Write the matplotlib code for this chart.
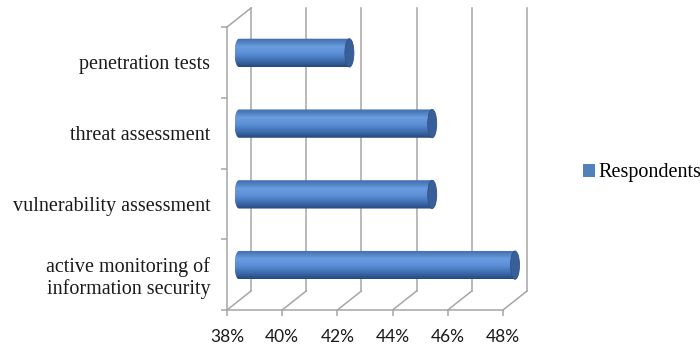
import numpy as np
import matplotlib
matplotlib.use('Agg')
import matplotlib.pyplot as plt
from matplotlib.patches import Ellipse, Polygon, Patch
from matplotlib.colors import LinearSegmentedColormap

categories = ['active monitoring of\ninformation security', 'vulnerability assessment',
              'threat assessment', 'penetration tests']
values = [48, 45, 45, 42]
series_name = 'Respondents'
xticks = [38, 40, 42, 44, 46, 48]

grid_col = '#a6a6a6'
fig = plt.figure(figsize=(7, 3.49), dpi=100)
ax = fig.add_axes([227 / 700, 39 / 349, 276 / 700, 283 / 349])
ax.set_xlim(xticks[0], xticks[-1])
ax.set_ylim(-0.5, len(categories) - 0.5)

# pixel -> data conversion for the fake 3d depth
ppx = ax.bbox.width / (xticks[-1] - xticks[0])
ppy = ax.bbox.height / len(categories)
ddx, ddy = 24 / ppx, 19 / ppy
y0, y1 = -0.5, len(categories) - 0.5

# back wall gridlines + floor diagonals
for x in xticks:
    ax.plot([x + ddx, x + ddx], [y0 + ddy, y1 + ddy], color=grid_col, lw=1.1, clip_on=False, zorder=1)
    ax.plot([x, x + ddx], [y0, y0 + ddy], color=grid_col, lw=1.1, clip_on=False, zorder=1)
# top edge of the side wall
ax.plot([xticks[0], xticks[0] + ddx], [y1, y1 + ddy], color=grid_col, lw=1.1, clip_on=False, zorder=1)

# cylinders
cmap = LinearSegmentedColormap.from_list('cyl', [
    (0.0, '#3d6aac'), (0.3, '#6a9ddf'), (0.55, '#5a8dd4'), (0.82, '#3966a8'), (1.0, '#26477c')])
grad = np.linspace(0, 1, 200).reshape(-1, 1)
h = 0.4
w = 9 / ppx
for i, v in enumerate(values):
    yc = i + ddy / 2
    xa = xticks[0] + ddx / 2
    xb = v + ddx / 2
    t = np.linspace(1.5 * np.pi, 0.5 * np.pi, 40)
    pts = [(xa, yc + h / 2), (xb, yc + h / 2), (xb, yc - h / 2)]
    pts += list(zip(xa + w / 2 * np.cos(t), yc + h / 2 * np.sin(t)))
    body = Polygon(pts, closed=True, facecolor='none', edgecolor='none', transform=ax.transData)
    ax.add_patch(body)
    body.set_clip_on(False)
    im = ax.imshow(grad, cmap=cmap, aspect='auto', origin='upper',
                   extent=[xa - w / 2, xb, yc - h / 2, yc + h / 2], zorder=3)
    im.set_clip_box(fig.bbox)
    im.set_clip_path(body)
    ax.add_patch(Ellipse((xb, yc), w, h, facecolor='#395f99', edgecolor='#2f5288', lw=0.6,
                         zorder=4, clip_on=False))

ax.set_xlim(xticks[0], xticks[-1])
ax.set_ylim(y0, y1)

for s in ['top', 'right']:
    ax.spines[s].set_visible(False)
for s in ['left', 'bottom']:
    ax.spines[s].set_color(grid_col)
    ax.spines[s].set_linewidth(1.1)

ax.set_xticks(xticks)
ax.set_xticklabels([f'{x}%' for x in xticks], fontsize=12.5, family='Lato', color='#1a1a1a')
ax.tick_params(axis='x', length=4, color=grid_col, width=1.1, pad=10)
ax.set_yticks(np.arange(len(categories) + 1) - 0.5)
ax.set_yticklabels([])
ax.tick_params(axis='y', which='major', length=4, color=grid_col, width=1.1)
ax.set_yticks(np.arange(len(categories)), minor=True)
ax.set_yticklabels(categories, minor=True, fontsize=14.5, family='Liberation Serif',
                   color='#1a1a1a', linespacing=1.1)
ax.tick_params(axis='y', which='minor', length=0, pad=12)
ax.patch.set_visible(False)

fig.legend(handles=[Patch(facecolor='#4f81bd', edgecolor='none', label=series_name)],
           loc='center left', bbox_to_anchor=(583 / 700, 1 - 173 / 349), frameon=False,
           handlelength=0.62, handleheight=0.62, handletextpad=0.15, borderpad=0,
           borderaxespad=0, prop={'family': 'Liberation Serif', 'size': 14.5})

plt.savefig('out.png', dpi=100)
